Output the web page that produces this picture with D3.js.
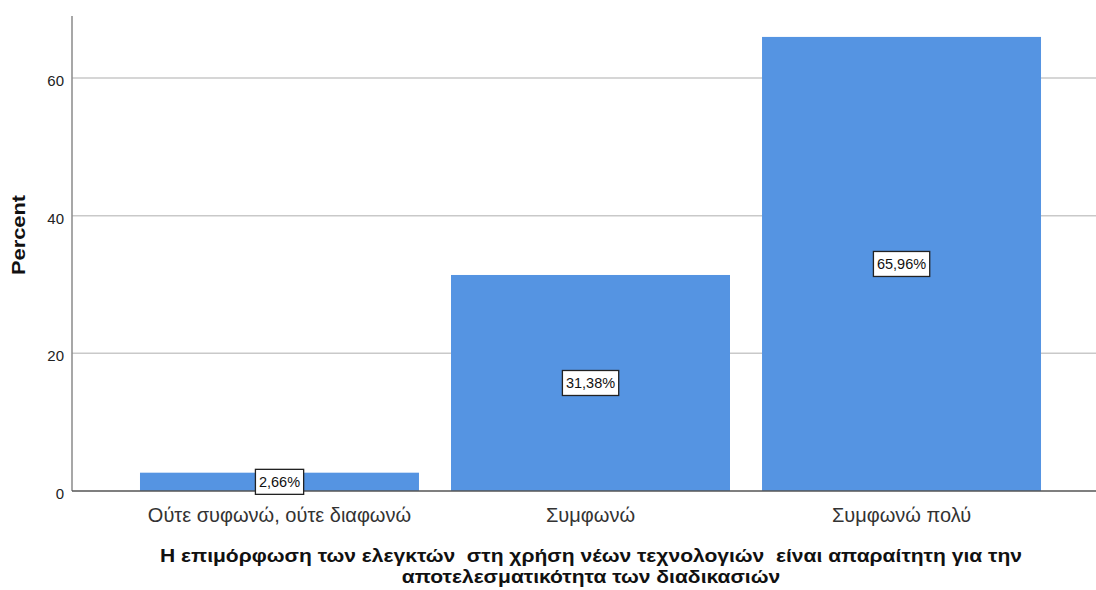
<!DOCTYPE html>
<html>
<head>
<meta charset="utf-8">
<script src="https://cdn.jsdelivr.net/npm/d3@7/dist/d3.min.js"></script>
<style>
  html, body { margin: 0; padding: 0; background: #fff; }
  svg { display: block; font-family: "Liberation Sans", Arial, sans-serif; }
</style>
</head>
<body>
<svg id="chart" width="1096" height="590"></svg>
<script>
// Response categories and their percentages
const categories = ["Ούτε συφωνώ, ούτε διαφωνώ", "Συμφωνώ", "Συμφωνώ πολύ"];
const percents = [2.66, 31.38, 65.96];
const labels = ["2,66%", "31,38%", "65,96%"];
const yTicks = [0, 20, 40, 60];
const yTitle = "Percent";
const xTitleLines = [
  "Η επιμόρφωση των ελεγκτών  στη χρήση νέων τεχνολογιών  είναι απαραίτητη για την",
  "αποτελεσματικότητα των διαδικασιών"
];

const svg = d3.select("#chart");
const W = 1096;
const plotLeft = 72, plotTop = 16, plotBottom = 491;

const y = d3.scaleLinear().domain([0, 69]).range([plotBottom, plotTop]);
const x = d3.scaleBand()
  .domain(categories)
  .range([plotLeft, 1109])
  .paddingInner(0.103)
  .paddingOuter(0.2186);

// Horizontal gridlines
svg.append("g")
  .selectAll("line")
  .data(yTicks.filter(d => d > 0))
  .join("line")
  .attr("x1", plotLeft).attr("x2", W)
  .attr("y1", d => y(d)).attr("y2", d => y(d))
  .attr("stroke", "#c9c9c9").attr("stroke-width", 1.5);

// Bars
svg.append("g")
  .selectAll("rect")
  .data(categories)
  .join("rect")
  .attr("x", d => x(d))
  .attr("width", x.bandwidth())
  .attr("y", (d, i) => y(percents[i]))
  .attr("height", (d, i) => y(0) - y(percents[i]))
  .attr("fill", "#5594e2");

// Y axis
const yAxis = svg.append("g")
  .attr("transform", `translate(${plotLeft},0)`)
  .call(d3.axisLeft(y).tickValues(yTicks).tickSize(0).tickPadding(8));
yAxis.select(".domain").remove();
yAxis.selectAll("text")
  .attr("font-size", 15)
  .attr("dy", "0.5em")
  .attr("fill", "#222")
  .attr("font-family", "Liberation Sans, Arial, sans-serif");
svg.append("line")
  .attr("x1", plotLeft).attr("x2", plotLeft)
  .attr("y1", plotTop).attr("y2", plotBottom)
  .attr("stroke", "#8a8a8a").attr("stroke-width", 1.5);

// Baseline
svg.append("line")
  .attr("x1", plotLeft).attr("x2", W)
  .attr("y1", y(0)).attr("y2", y(0))
  .attr("stroke", "#555").attr("stroke-width", 1.5);

// X axis category labels
const xAxis = svg.append("g")
  .attr("transform", `translate(0,${plotBottom})`)
  .call(d3.axisBottom(x).tickSize(0).tickPadding(17));
xAxis.select(".domain").remove();
xAxis.selectAll("text")
  .attr("font-size", 20)
  .attr("fill", "#333")
  .attr("font-family", "Liberation Sans, Arial, sans-serif");

// Value labels in boxes at the middle of each bar
const lab = svg.append("g")
  .selectAll("g")
  .data(categories)
  .join("g")
  .attr("transform", (d, i) => `translate(${x(d) + x.bandwidth() / 2},${y(percents[i] / 2)})`);
lab.append("text")
  .attr("text-anchor", "middle")
  .attr("dy", "0.36em")
  .attr("font-size", 14.5)
  .attr("fill", "#111")
  .text((d, i) => labels[i]);
lab.each(function () {
  const g = d3.select(this);
  const bb = g.select("text").node().getBBox();
  g.insert("rect", "text")
    .attr("x", bb.x - 3.5)
    .attr("y", -12.5)
    .attr("width", bb.width + 7)
    .attr("height", 25)
    .attr("fill", "#fff")
    .attr("stroke", "#222")
    .attr("stroke-width", 1.3);
});

// Y axis title
svg.append("text")
  .attr("transform", "translate(25,235) rotate(-90)")
  .attr("text-anchor", "middle")
  .attr("font-size", 18.5)
  .attr("font-weight", "bold")
  .attr("fill", "#111")
  .attr("textLength", 80)
  .attr("lengthAdjust", "spacingAndGlyphs")
  .text(yTitle);

// X axis title (two lines, stretched to the same width factor)
const titles = svg.append("g")
  .selectAll("text")
  .data(xTitleLines)
  .join("text")
  .attr("x", 591)
  .attr("y", (d, i) => 562 + i * 21)
  .attr("text-anchor", "middle")
  .attr("font-size", 18)
  .attr("font-weight", "bold")
  .attr("fill", "#111")
  .style("white-space", "pre")
  .text(d => d);
const natural = titles.nodes().map(n => n.getComputedTextLength());
const stretch = 862 / natural[0];
titles.attr("textLength", (d, i) => natural[i] * stretch)
  .attr("lengthAdjust", "spacingAndGlyphs");
</script>
</body>
</html>
